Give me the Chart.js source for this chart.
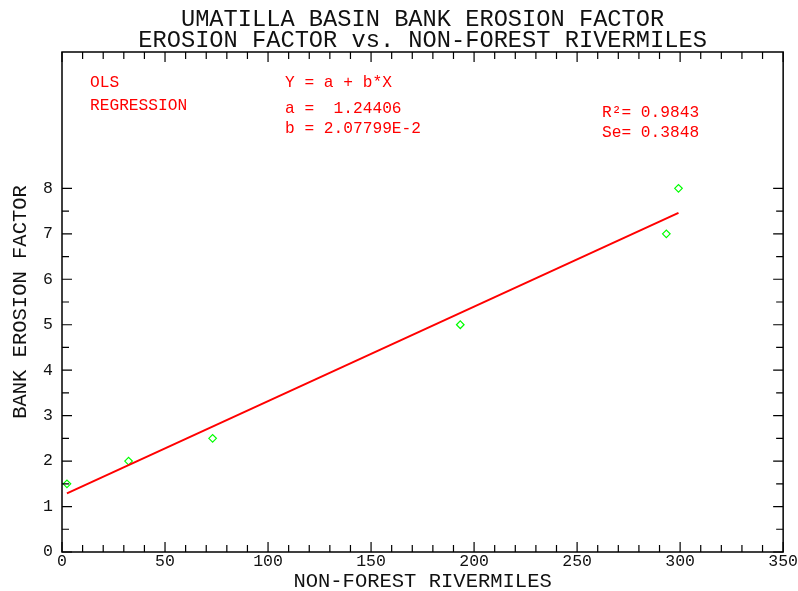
<!DOCTYPE html>
<html><head><meta charset="utf-8">
<script src="https://cdn.jsdelivr.net/npm/chart.js@4/dist/chart.umd.min.js"></script>
<style>html,body{margin:0;padding:0;background:#fff}#wrap{width:798px;height:591px}</style>
</head><body><div id="wrap"><canvas id="c" width="798" height="591"></canvas></div>
<script>
// ---- data ----
const titleLines = ['UMATILLA BASIN BANK EROSION FACTOR', 'EROSION FACTOR vs. NON-FOREST RIVERMILES'];
const xAxisTitle = 'NON-FOREST RIVERMILES';
const yAxisTitle = 'BANK EROSION FACTOR';
const obsX = [2.4, 32.3, 73.1, 193.3, 293.3, 299.2];
const obsY = [1.5, 2.0, 2.5, 5.0, 7.0, 8.0];
const fitX = [2.4, 299.2];
const fitY = [1.29, 7.46];
const xTickValues = [0, 50, 100, 150, 200, 250, 300, 350];
const yTickValues = [0, 1, 2, 3, 4, 5, 6, 7, 8];
const noteLines = ['OLS', 'REGRESSION', 'Y = a + b*X', 'a =  1.24406', 'b = 2.07799E-2', 'R\u00B2= 0.9843', 'Se= 0.3848'];

const FONT = "'Liberation Mono', 'DejaVu Sans Mono', monospace";
const notePos = [[90, 87], [90, 110], [285, 87], [285, 113], [285, 133], [602, 117], [602, 137]];

const frameTicks = {
  id: 'frameTicks',
  afterDatasetsDraw(chart) {
    const {ctx, chartArea: a, scales: {x, y}} = chart;
    ctx.save();
    ctx.strokeStyle = '#000';
    ctx.lineWidth = 1.2;
    ctx.beginPath();
    for (let v = x.min; v <= x.max + 1e-9; v += 10) {
      const px = x.getPixelForValue(v);
      const L = (Math.round(v) % 50 === 0) ? 10 : 7;
      ctx.moveTo(px, a.bottom); ctx.lineTo(px, a.bottom - L);
      ctx.moveTo(px, a.top); ctx.lineTo(px, a.top + L);
    }
    const yTop = yTickValues[yTickValues.length - 1];
    for (let v = 0; v <= yTop + 1e-9; v += 0.5) {
      const py = y.getPixelForValue(v);
      const L = (Math.abs(v - Math.round(v)) < 1e-9) ? 10 : 7;
      ctx.moveTo(a.left, py); ctx.lineTo(a.left + L, py);
      ctx.moveTo(a.right, py); ctx.lineTo(a.right - L, py);
    }
    ctx.stroke();
    ctx.lineWidth = 1.5;
    ctx.strokeRect(a.left, a.top, a.right - a.left, a.bottom - a.top);
    // annotation text
    ctx.fillStyle = '#ff0000';
    ctx.font = "16.2px " + FONT;
    ctx.textAlign = 'left';
    ctx.textBaseline = 'alphabetic';
    noteLines.forEach((t, i) => ctx.fillText(t, notePos[i][0], notePos[i][1]));
    ctx.restore();
  }
};

new Chart(document.getElementById('c'), {
  type: 'scatter',
  data: {
    datasets: [
      {
        label: 'Regression',
        type: 'line',
        data: fitX.map((v, i) => ({x: v, y: fitY[i]})),
        borderColor: '#ff0000',
        borderWidth: 2,
        pointRadius: 0,
        fill: false,
        tension: 0
      },
      {
        label: 'Observed',
        data: obsX.map((v, i) => ({x: v, y: obsY[i]})),
        pointStyle: 'rectRot',
        pointRadius: 3.8,
        borderColor: '#00ff00',
        backgroundColor: 'rgba(0,0,0,0)',
        borderWidth: 1.2
      }
    ]
  },
  options: {
    responsive: false,
    animation: false,
    devicePixelRatio: 1,
    layout: {padding: {left: 0, right: 14, top: 0, bottom: 0}},
    plugins: {
      legend: {display: false},
      tooltip: {enabled: false},
      title: {
        display: true,
        fullSize: false,
        text: titleLines,
        color: '#111',
        font: {family: FONT, size: 23.7, weight: 'normal', lineHeight: 21 / 23.7},
        padding: {top: 9, bottom: 1}
      }
    },
    scales: {
      x: {
        type: 'linear', min: 0, max: 350,
        afterBuildTicks: s => { s.ticks = xTickValues.map(v => ({value: v})); },
        afterFit: s => { s.height = 39; },
        grid: {display: false, drawTicks: false},
        border: {display: false},
        ticks: {color: '#111', font: {family: FONT, size: 16.5, lineHeight: 1.2}, padding: 0, maxRotation: 0, autoSkip: false},
        title: {display: true, text: xAxisTitle, color: '#111', font: {family: FONT, size: 20.5, lineHeight: 0.9}, padding: {top: 0, bottom: 0.5}}
      },
      y: {
        type: 'linear', min: 0, max: 11,
        afterBuildTicks: s => { s.ticks = yTickValues.map(v => ({value: v})); },
        afterFit: s => { s.width = 62; },
        grid: {display: false, drawTicks: false},
        border: {display: false},
        ticks: {color: '#111', font: {family: FONT, size: 16.5, lineHeight: 1.2}, padding: 9, autoSkip: false},
        title: {display: true, text: yAxisTitle, color: '#111', font: {family: FONT, size: 20.5, lineHeight: 1}, padding: {top: 10.5, bottom: 0}}
      }
    }
  },
  plugins: [frameTicks]
});
</script>
</body></html>
